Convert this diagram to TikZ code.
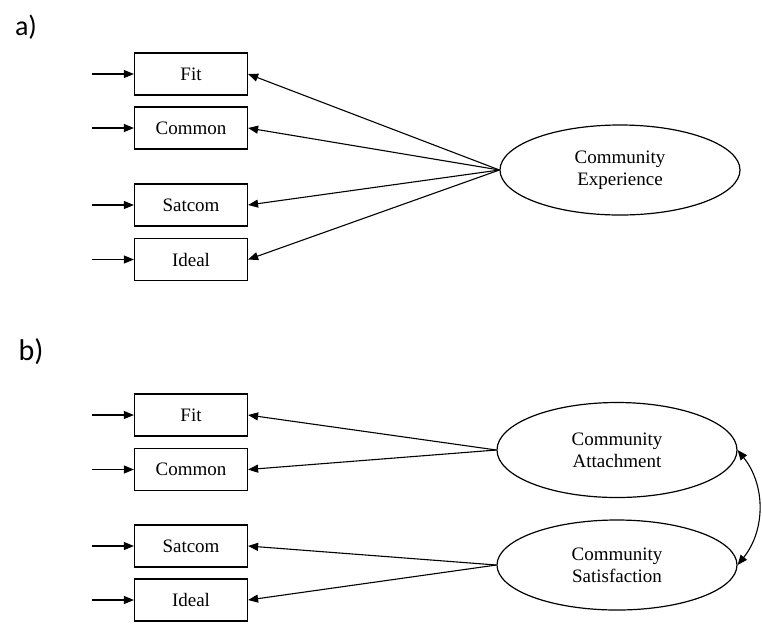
\documentclass[tikz,border=0pt]{standalone}
\usepackage{fontspec}
\setmainfont{Liberation Serif}
\newfontfamily\labelfont{Carlito}
\usetikzlibrary{arrows.meta,shapes.geometric}
\begin{document}
\begin{tikzpicture}[x=1pt,y=-1pt,
 obs/.style={draw,line width=1.2pt,minimum width=113pt,minimum height=42pt,inner sep=0pt,font=\fontsize{19}{22}\selectfont},
 lat/.style={draw,ellipse,line width=1.2pt,minimum width=240pt,minimum height=90pt,inner sep=0pt,align=center,font=\fontsize{19}{22}\selectfont},
 arr/.style={line width=1.1pt,-{Triangle[length=10pt,width=8pt]}},
 lbl/.style={font=\labelfont\fontsize{28}{32}\selectfont,inner sep=0pt}]
\path[use as bounding box] (0,0) rectangle (762,625);

% labels
\node[lbl] (la) at (26,27) {a)};
\node[lbl,font=\labelfont\fontsize{30}{34}\selectfont] (lb) at (31,352) {b)};

% part a
\node[obs] (afit) at (191,74) {Fit};
\node[obs] (acom) at (191,128) {Common};
\node[obs] (asat) at (191,205) {Satcom};
\node[obs] (aide) at (191,259.5) {Ideal};
\node[lat] (ea) at (620,170) {Community\\Experience};

\coordinate (ia1) at (92,74);
\coordinate (ia2) at (92,128);
\coordinate (ia3) at (92,205);
\coordinate (ia4) at (92,259.5);
\draw[arr] (ia1) -- (afit.west);
\draw[arr] (ia2) -- (acom.west);
\draw[arr] (ia3) -- (asat.west);
\draw[arr] (ia4) -- (aide.west);

\draw[arr] (ea.west) -- (afit.east);
\draw[arr] (ea.west) -- (acom.east);
\draw[arr] (ea.west) -- (asat.east);
\draw[arr] (ea.west) -- (aide.east);

% part b
\node[obs] (bfit) at (191,415) {Fit};
\node[obs] (bcom) at (191,469.5) {Common};
\node[obs] (bsat) at (191,546) {Satcom};
\node[obs] (bide) at (191,600) {Ideal};
\node[lat,minimum height=95pt] (eb1) at (617,450) {Community\\Attachment};
\node[lat] (eb2) at (617,565) {Community\\Satisfaction};

\coordinate (ib1) at (92,415);
\coordinate (ib2) at (92,469.5);
\coordinate (ib3) at (92,546);
\coordinate (ib4) at (92,600);
\draw[arr] (ib1) -- (bfit.west);
\draw[arr] (ib2) -- (bcom.west);
\draw[arr] (ib3) -- (bsat.west);
\draw[arr] (ib4) -- (bide.west);

\draw[arr] (eb1.west) -- (bfit.east);
\draw[arr] (eb1.west) -- (bcom.east);
\draw[arr] (eb2.west) -- (bsat.east);
\draw[arr] (eb2.west) -- (bide.east);

\draw[line width=1.1pt,{Triangle[length=10pt,width=8pt]}-{Triangle[length=10pt,width=8pt]}]
  (eb1.east) .. controls +(28pt,-35pt) and +(28pt,35pt) .. (eb2.east);
\end{tikzpicture}
\end{document}
